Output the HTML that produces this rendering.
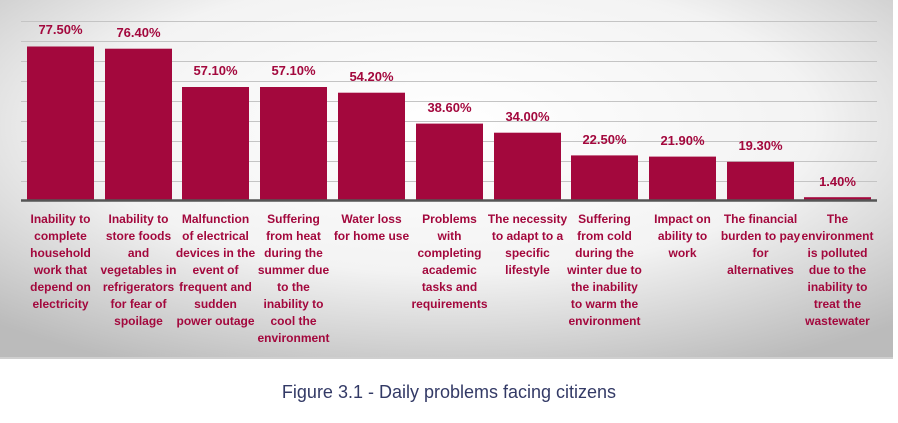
<!DOCTYPE html>
<html><head><meta charset="utf-8"><style>
html,body{margin:0;padding:0;background:#fff;width:898px;height:423px;overflow:hidden}
svg{display:block}
</style></head><body>
<svg width="898" height="423" xmlns="http://www.w3.org/2000/svg" font-family="Liberation Sans, sans-serif">
<defs>
<radialGradient id="bg" cx="0.5" cy="0.35" r="0.75">
<stop offset="0" stop-color="#ffffff"/>
<stop offset="0.55" stop-color="#f3f3f3"/>
<stop offset="1" stop-color="#bbbbbb"/>
</radialGradient>
</defs>
<rect x="0" y="0" width="893" height="358" fill="url(#bg)"/>
<line x1="0" y1="358" x2="893" y2="358" stroke="#cfcfcf" stroke-width="2"/>
<g stroke="#c4c4c4" stroke-width="1">
<line x1="21" y1="21.5" x2="877" y2="21.5"/>
<line x1="21" y1="41.5" x2="877" y2="41.5"/>
<line x1="21" y1="61.5" x2="877" y2="61.5"/>
<line x1="21" y1="81.5" x2="877" y2="81.5"/>
<line x1="21" y1="101.5" x2="877" y2="101.5"/>
<line x1="21" y1="121.5" x2="877" y2="121.5"/>
<line x1="21" y1="141.5" x2="877" y2="141.5"/>
<line x1="21" y1="161.5" x2="877" y2="161.5"/>
<line x1="21" y1="181.5" x2="877" y2="181.5"/>
</g>
<g fill="#a3083d">
<rect x="27" y="46.5" width="67" height="153.5"/>
<rect x="105" y="48.7" width="67" height="151.3"/>
<rect x="182" y="87" width="67" height="113"/>
<rect x="260" y="87" width="67" height="113"/>
<rect x="338" y="92.7" width="67" height="107.3"/>
<rect x="416" y="123.6" width="67" height="76.4"/>
<rect x="494" y="132.7" width="67" height="67.3"/>
<rect x="571" y="155.4" width="67" height="44.6"/>
<rect x="649" y="156.6" width="67" height="43.4"/>
<rect x="727" y="161.8" width="67" height="38.2"/>
<rect x="804" y="197.2" width="67" height="2.8"/>
</g>
<line x1="21" y1="200.5" x2="877" y2="200.5" stroke="#555" stroke-width="2.5"/>
<g fill="#a3083d" font-size="13" font-weight="bold" text-anchor="middle">
<text x="60.5" y="34">77.50%</text>
<text x="138.5" y="37">76.40%</text>
<text x="215.5" y="75">57.10%</text>
<text x="293.5" y="75">57.10%</text>
<text x="371.5" y="81">54.20%</text>
<text x="449.5" y="112">38.60%</text>
<text x="527.5" y="121">34.00%</text>
<text x="604.5" y="144">22.50%</text>
<text x="682.5" y="145">21.90%</text>
<text x="760.5" y="150">19.30%</text>
<text x="837.5" y="186">1.40%</text>
</g>
<g fill="#a3083d" font-size="12" font-weight="bold" text-anchor="middle">
<text x="60.5" y="223"><tspan x="60.5">Inability to</tspan><tspan x="60.5" dy="17">complete</tspan><tspan x="60.5" dy="17">household</tspan><tspan x="60.5" dy="17">work that</tspan><tspan x="60.5" dy="17">depend on</tspan><tspan x="60.5" dy="17">electricity</tspan></text>
<text x="138.5" y="223"><tspan x="138.5">Inability to</tspan><tspan x="138.5" dy="17">store foods</tspan><tspan x="138.5" dy="17">and</tspan><tspan x="138.5" dy="17">vegetables in</tspan><tspan x="138.5" dy="17">refrigerators</tspan><tspan x="138.5" dy="17">for fear of</tspan><tspan x="138.5" dy="17">spoilage</tspan></text>
<text x="215.5" y="223"><tspan x="215.5">Malfunction</tspan><tspan x="215.5" dy="17">of electrical</tspan><tspan x="215.5" dy="17">devices in the</tspan><tspan x="215.5" dy="17">event of</tspan><tspan x="215.5" dy="17">frequent and</tspan><tspan x="215.5" dy="17">sudden</tspan><tspan x="215.5" dy="17">power outage</tspan></text>
<text x="293.5" y="223"><tspan x="293.5">Suffering</tspan><tspan x="293.5" dy="17">from heat</tspan><tspan x="293.5" dy="17">during the</tspan><tspan x="293.5" dy="17">summer due</tspan><tspan x="293.5" dy="17">to the</tspan><tspan x="293.5" dy="17">inability to</tspan><tspan x="293.5" dy="17">cool the</tspan><tspan x="293.5" dy="17">environment</tspan></text>
<text x="371.5" y="223"><tspan x="371.5">Water loss</tspan><tspan x="371.5" dy="17">for home use</tspan></text>
<text x="449.5" y="223"><tspan x="449.5">Problems</tspan><tspan x="449.5" dy="17">with</tspan><tspan x="449.5" dy="17">completing</tspan><tspan x="449.5" dy="17">academic</tspan><tspan x="449.5" dy="17">tasks and</tspan><tspan x="449.5" dy="17">requirements</tspan></text>
<text x="527.5" y="223"><tspan x="527.5">The necessity</tspan><tspan x="527.5" dy="17">to adapt to a</tspan><tspan x="527.5" dy="17">specific</tspan><tspan x="527.5" dy="17">lifestyle</tspan></text>
<text x="604.5" y="223"><tspan x="604.5">Suffering</tspan><tspan x="604.5" dy="17">from cold</tspan><tspan x="604.5" dy="17">during the</tspan><tspan x="604.5" dy="17">winter due to</tspan><tspan x="604.5" dy="17">the inability</tspan><tspan x="604.5" dy="17">to warm the</tspan><tspan x="604.5" dy="17">environment</tspan></text>
<text x="682.5" y="223"><tspan x="682.5">Impact on</tspan><tspan x="682.5" dy="17">ability to</tspan><tspan x="682.5" dy="17">work</tspan></text>
<text x="760.5" y="223"><tspan x="760.5">The financial</tspan><tspan x="760.5" dy="17">burden to pay</tspan><tspan x="760.5" dy="17">for</tspan><tspan x="760.5" dy="17">alternatives</tspan></text>
<text x="837.5" y="223"><tspan x="837.5">The</tspan><tspan x="837.5" dy="17">environment</tspan><tspan x="837.5" dy="17">is polluted</tspan><tspan x="837.5" dy="17">due to the</tspan><tspan x="837.5" dy="17">inability to</tspan><tspan x="837.5" dy="17">treat the</tspan><tspan x="837.5" dy="17">wastewater</tspan></text>
</g>
<text x="449" y="398" text-anchor="middle" font-size="18" fill="#333a66">Figure 3.1 - Daily problems facing citizens</text>
</svg>
</body></html>
